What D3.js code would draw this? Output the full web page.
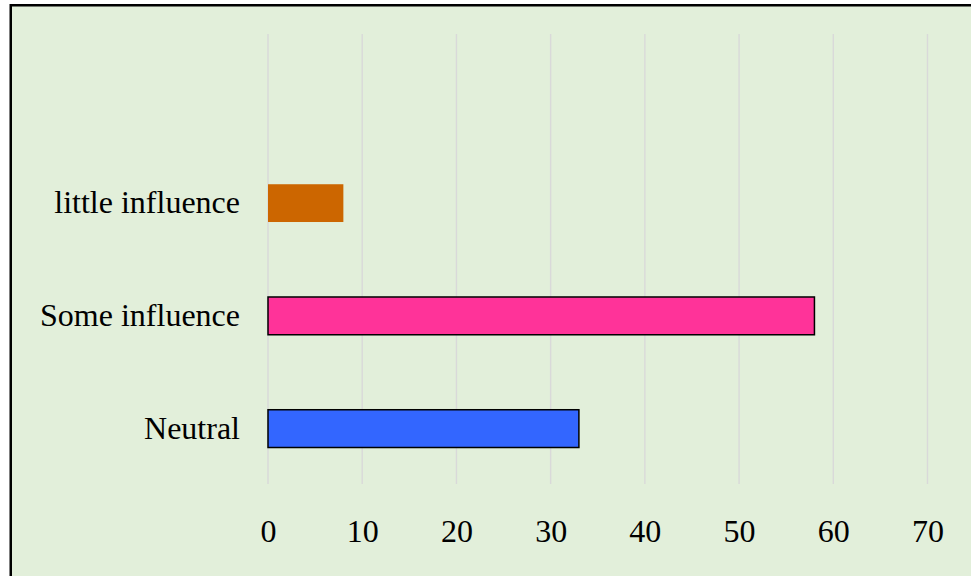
<!DOCTYPE html>
<html>
<head>
<meta charset="utf-8">
<script src="https://cdn.jsdelivr.net/npm/d3@7"></script>
<style>
  html, body { margin: 0; padding: 0; background: #ffffff; }
  svg { display: block; }
  svg text { font-family: "Liberation Serif", "Times New Roman", Times, serif !important; }
</style>
</head>
<body>
<div id="chart"></div>
<script>
// Data
const categories = ["Neutral", "Some influence", "little influence", ""];
const values = [33, 58, 8, null];
const barColors = ["#3366ff", "#ff3399", "#cc6600", "none"];
const barStrokes = ["#000000", "#000000", "none", "none"];
const tickValues = [0, 10, 20, 30, 40, 50, 60, 70];

const W = 971, H = 576;
const FONT = "'Liberation Serif', 'Times New Roman', Times, serif";
const svg = d3.select("#chart").append("svg")
  .attr("width", W).attr("height", H);

// frame
svg.append("rect")
  .attr("x", 10.75).attr("y", 5.25)
  .attr("width", 990).attr("height", 600)
  .attr("fill", "#e2efda")
  .attr("stroke", "#000").attr("stroke-width", 2.5);

const x = d3.scaleLinear().domain([0, 70]).range([268, 927.5]);
const y = d3.scaleBand().domain(categories.slice().reverse())
  .range([34, 485]).paddingInner(0.665).paddingOuter(0.3325);

// gridlines
svg.append("g").selectAll("line").data(tickValues).join("line")
  .attr("x1", d => x(d)).attr("x2", d => x(d))
  .attr("y1", 34).attr("y2", 484)
  .attr("stroke", "#d9d9d9").attr("stroke-width", 1.4);

// bars
const data = categories.map((c, i) => ({c, v: values[i], fill: barColors[i], stroke: barStrokes[i]}))
  .filter(d => d.v !== null);
svg.append("g").selectAll("rect").data(data).join("rect")
  .attr("x", x(0))
  .attr("y", d => y(d.c))
  .attr("width", d => x(d.v) - x(0))
  .attr("height", y.bandwidth())
  .attr("fill", d => d.fill)
  .attr("stroke", d => d.stroke)
  .attr("stroke-width", 1.5);

// x axis labels
const xAxis = d3.axisBottom(x).tickValues(tickValues).tickSize(0).tickPadding(0);
const gx = svg.append("g").attr("transform", "translate(0,520)").call(xAxis)
  .attr("font-family", FONT).attr("font-size", 32);
gx.select(".domain").remove();
gx.selectAll("text")
  .style("font-family", FONT)
  .style("font-size", "32px")
  .attr("fill", "#000")
  .attr("dy", "0.68em");

// y axis labels
const yAxis = d3.axisLeft(y).tickSize(0).tickPadding(0);
const gy = svg.append("g").attr("transform", "translate(240,0)").call(yAxis)
  .attr("font-family", FONT).attr("font-size", 32);
gy.select(".domain").remove();
gy.selectAll("text")
  .style("font-family", FONT)
  .style("font-size", "32px")
  .attr("fill", "#000")
  .attr("dy", "0.31em");
</script>
</body>
</html>
